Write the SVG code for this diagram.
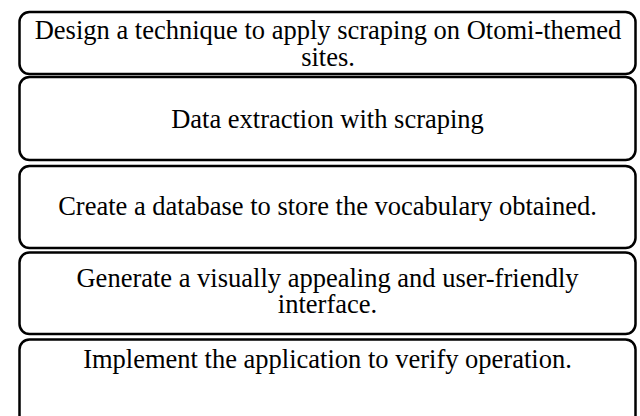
<svg xmlns="http://www.w3.org/2000/svg" width="640" height="416" viewBox="0 0 640 416">
<style>
.box{fill:#fff;stroke:#000;stroke-width:2.5}
.t{font-family:"Liberation Serif","Times New Roman",serif;font-size:26.5px;fill:#000;text-anchor:middle}
</style>
<rect width="640" height="416" fill="#fff"/>
<g id="connectors"></g>
<g id="n1">
<rect class="box" x="19.5" y="12" width="616" height="62" rx="10"/>
<text class="t" x="328" y="39.3">Design a technique to apply scraping on Otomi-themed</text>
<text class="t" x="328" y="65.5">sites.</text>
</g>
<g id="n2">
<rect class="box" x="19.5" y="77" width="616" height="83" rx="10"/>
<text class="t" x="327.5" y="128.3">Data extraction with scraping</text>
</g>
<g id="n3">
<rect class="box" x="19.5" y="166" width="616" height="82" rx="10"/>
<text class="t" x="327.5" y="215">Create a database to store the vocabulary obtained.</text>
</g>
<g id="n4">
<rect class="box" x="19.5" y="252.5" width="616" height="81.5" rx="10"/>
<text class="t" x="327.5" y="286.7">Generate a visually appealing and user-friendly</text>
<text class="t" x="327.5" y="313.2">interface.</text>
</g>
<g id="n5">
<rect class="box" x="19.5" y="339.5" width="616" height="90" rx="10"/>
<text class="t" x="327.5" y="368">Implement the application to verify operation.</text>
</g>
</svg>
